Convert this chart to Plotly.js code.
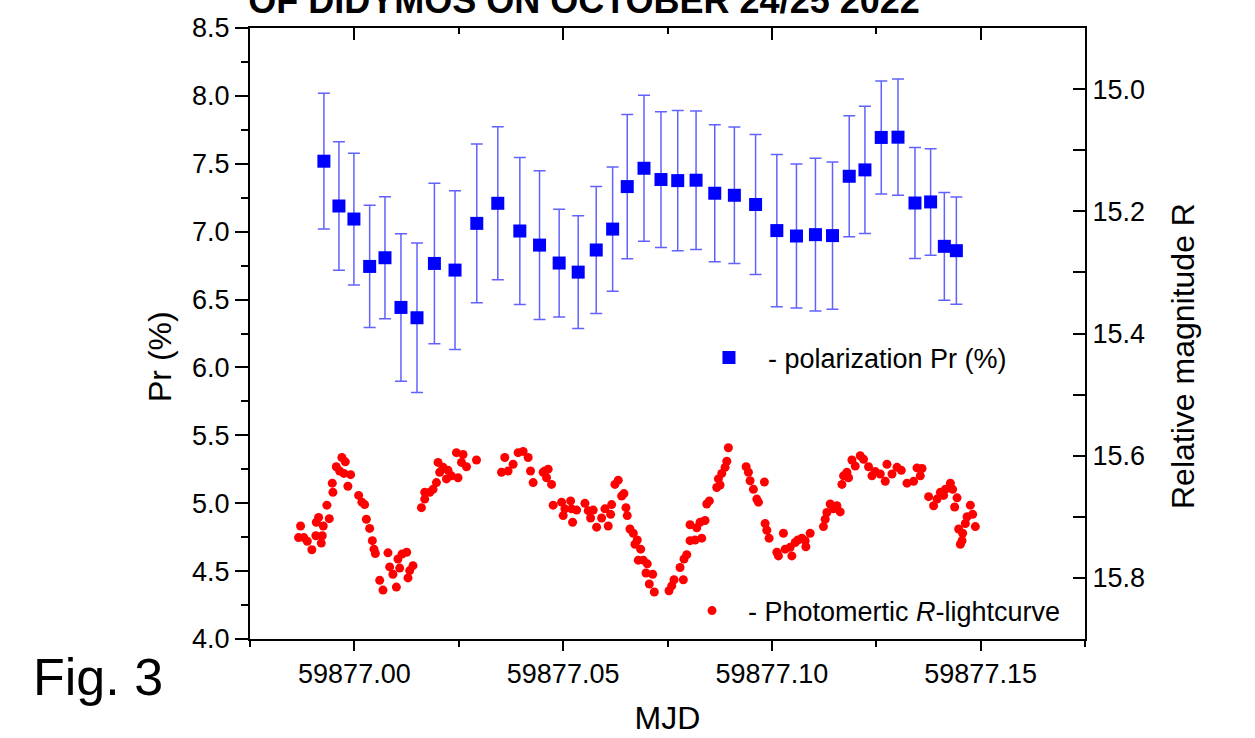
<!DOCTYPE html>
<html>
<head>
<meta charset="utf-8">
<script src="https://cdn.plot.ly/plotly-3.0.1.min.js"></script>
<style>html,body{margin:0;padding:0;background:#fff;}#chart{width:1255px;height:738px;}</style>
</head>
<body>
<div id="chart"></div>
<script>
// Polarization (left axis, Pr %)
const polMJD = [59876.99270, 59876.99630, 59876.99989, 59877.00366, 59877.00733, 59877.01116, 59877.01500, 59877.01917, 59877.02411, 59877.02932, 59877.03435, 59877.03963, 59877.04435, 59877.04905, 59877.05361, 59877.05793, 59877.06186, 59877.06536, 59877.06937, 59877.07344, 59877.07745, 59877.08184, 59877.08632, 59877.09102, 59877.09610, 59877.10119, 59877.10589, 59877.11044, 59877.11452, 59877.11853, 59877.12229, 59877.12620, 59877.13021, 59877.13428, 59877.13802, 59877.14131, 59877.14419];
const polPr = [7.519, 7.189, 7.093, 6.744, 6.808, 6.442, 6.366, 6.766, 6.717, 7.061, 7.209, 7.005, 6.901, 6.769, 6.702, 6.865, 7.019, 7.332, 7.467, 7.384, 7.376, 7.379, 7.283, 7.268, 7.200, 7.008, 6.968, 6.978, 6.971, 7.408, 7.455, 7.694, 7.696, 7.211, 7.219, 6.892, 6.860];
const polErr = [0.500, 0.474, 0.485, 0.450, 0.450, 0.543, 0.551, 0.591, 0.584, 0.584, 0.563, 0.542, 0.547, 0.397, 0.415, 0.467, 0.457, 0.531, 0.537, 0.500, 0.516, 0.510, 0.505, 0.503, 0.516, 0.561, 0.531, 0.563, 0.542, 0.446, 0.468, 0.416, 0.428, 0.409, 0.392, 0.397, 0.395];

// Photometric R lightcurve (right axis, relative magnitude)
const lcMJD = [59876.98663, 59876.98711, 59876.98790, 59876.98872, 59876.98982, 59876.99078, 59876.99088, 59876.99143, 59876.99207, 59876.99255, 59876.99231, 59876.99342, 59876.99399, 59876.99471, 59876.99486, 59876.99567, 59876.99646, 59876.99701, 59876.99749, 59876.99783, 59876.99845, 59876.99910, 59877.00102, 59877.00181, 59877.00246, 59877.00287, 59877.00366, 59877.00430, 59877.00469, 59877.00502, 59877.00606, 59877.00685, 59877.00805, 59877.00845, 59877.00924, 59877.01006, 59877.01044, 59877.01085, 59877.01140, 59877.01253, 59877.01284, 59877.01325, 59877.01404, 59877.01606, 59877.01685, 59877.01685, 59877.01805, 59877.01884, 59877.01965, 59877.02004, 59877.02044, 59877.02124, 59877.02205, 59877.02243, 59877.02325, 59877.02445, 59877.02483, 59877.02565, 59877.02603, 59877.02685, 59877.02925, 59877.03524, 59877.03603, 59877.03682, 59877.03802, 59877.03922, 59877.04042, 59877.04162, 59877.04219, 59877.04282, 59877.04522, 59877.04562, 59877.04642, 59877.04603, 59877.04723, 59877.04761, 59877.04963, 59877.05042, 59877.05001, 59877.05179, 59877.05203, 59877.05323, 59877.05227, 59877.05522, 59877.05601, 59877.05658, 59877.05721, 59877.05802, 59877.05922, 59877.06001, 59877.06080, 59877.06138, 59877.06162, 59877.06241, 59877.06320, 59877.06402, 59877.06457, 59877.06505, 59877.06536, 59877.06601, 59877.06680, 59877.06721, 59877.06776, 59877.06857, 59877.06800, 59877.06920, 59877.07016, 59877.06985, 59877.07145, 59877.07064, 59877.07184, 59877.07536, 59877.07601, 59877.07656, 59877.07879, 59877.07800, 59877.07896, 59877.07961, 59877.08040, 59877.08160, 59877.08320, 59877.08040, 59877.08200, 59877.08280, 59877.08399, 59877.08440, 59877.08502, 59877.08680, 59877.08759, 59877.08718, 59877.08800, 59877.08879, 59877.08920, 59877.08958, 59877.09383, 59877.09438, 59877.09478, 59877.09558, 59877.09639, 59877.09678, 59877.09821, 59877.09838, 59877.09879, 59877.09934, 59877.10119, 59877.10157, 59877.10277, 59877.10318, 59877.10438, 59877.10479, 59877.10558, 59877.10622, 59877.10718, 59877.10797, 59877.10814, 59877.10917, 59877.11236, 59877.11277, 59877.11318, 59877.11397, 59877.11476, 59877.11558, 59877.11637, 59877.11678, 59877.11716, 59877.11797, 59877.11836, 59877.11917, 59877.11997, 59877.12116, 59877.12196, 59877.12315, 59877.12397, 59877.12476, 59877.12596, 59877.12716, 59877.12757, 59877.12877, 59877.12997, 59877.13100, 59877.13236, 59877.13395, 59877.13476, 59877.13555, 59877.13596, 59877.13754, 59877.13874, 59877.13956, 59877.14035, 59877.14114, 59877.14155, 59877.14275, 59877.14330, 59877.14378, 59877.14435, 59877.14474, 59877.14515, 59877.14555, 59877.14570, 59877.14634, 59877.14675, 59877.14754, 59877.14810, 59877.14874];
const lcMag = [15.734, 15.715, 15.734, 15.740, 15.754, 15.731, 15.709, 15.701, 15.743, 15.715, 15.731, 15.681, 15.703, 15.645, 15.660, 15.618, 15.625, 15.603, 15.629, 15.610, 15.650, 15.631, 15.665, 15.676, 15.680, 15.704, 15.719, 15.739, 15.753, 15.760, 15.804, 15.820, 15.759, 15.782, 15.794, 15.815, 15.769, 15.784, 15.761, 15.758, 15.800, 15.788, 15.780, 15.685, 15.671, 15.660, 15.660, 15.655, 15.644, 15.611, 15.627, 15.619, 15.638, 15.624, 15.633, 15.595, 15.636, 15.611, 15.598, 15.618, 15.607, 15.627, 15.603, 15.625, 15.614, 15.595, 15.593, 15.603, 15.625, 15.644, 15.627, 15.625, 15.622, 15.636, 15.647, 15.681, 15.676, 15.687, 15.698, 15.674, 15.687, 15.689, 15.709, 15.678, 15.690, 15.702, 15.689, 15.717, 15.702, 15.687, 15.715, 15.696, 15.680, 15.647, 15.640, 15.666, 15.662, 15.685, 15.698, 15.720, 15.727, 15.745, 15.738, 15.753, 15.771, 15.771, 15.777, 15.792, 15.794, 15.810, 15.823, 15.821, 15.813, 15.803, 15.803, 15.783, 15.769, 15.762, 15.739, 15.738, 15.735, 15.713, 15.718, 15.709, 15.706, 15.679, 15.674, 15.652, 15.648, 15.638, 15.629, 15.619, 15.609, 15.587, 15.618, 15.627, 15.641, 15.655, 15.671, 15.676, 15.643, 15.711, 15.722, 15.735, 15.758, 15.764, 15.727, 15.753, 15.750, 15.764, 15.742, 15.738, 15.735, 15.739, 15.749, 15.727, 15.716, 15.704, 15.693, 15.679, 15.687, 15.682, 15.692, 15.647, 15.633, 15.627, 15.636, 15.607, 15.617, 15.600, 15.606, 15.618, 15.633, 15.626, 15.630, 15.642, 15.614, 15.630, 15.619, 15.624, 15.645, 15.642, 15.620, 15.633, 15.621, 15.667, 15.682, 15.671, 15.660, 15.665, 15.655, 15.645, 15.655, 15.684, 15.669, 15.720, 15.745, 15.739, 15.727, 15.711, 15.700, 15.681, 15.696, 15.716];

const FONT = 'Liberation Sans, Arial, sans-serif';
const xRange = [59876.975, 59877.175];

const traces = [
  {
    x: polMJD, y: polPr, type: 'scatter', mode: 'markers',
    name: '- polarization Pr (%)', xaxis: 'x', yaxis: 'y', legend: 'legend',
    marker: {symbol: 'square', size: 13, color: '#0000ff'},
    error_y: {type: 'data', array: polErr, visible: true, color: 'rgba(30,30,255,0.7)', thickness: 1.5, width: 6},
    cliponaxis: false
  },
  {
    x: lcMJD, y: lcMag, type: 'scatter', mode: 'markers',
    name: '- Photomertic <i>R</i>-lightcurve', xaxis: 'x2', yaxis: 'y2', legend: 'legend2',
    marker: {symbol: 'circle', size: 9, color: '#ff0000'}
  }
];

const axCommon = {
  showgrid: false, zeroline: false, showline: true, linecolor: '#000', linewidth: 2,
  tickcolor: '#000', tickwidth: 2, tickfont: {family: FONT, size: 27, color: '#000'}
};

const layout = {
  width: 1255, height: 738,
  margin: {l: 250, r: 170, t: 28, b: 99},
  paper_bgcolor: '#fff', plot_bgcolor: '#fff',
  font: {family: FONT, color: '#000'},
  title: {
    text: '<b>OF DIDYMOS ON OCTOBER 24/25 2022</b>',
    font: {family: FONT, size: 36, color: '#000'},
    xref: 'paper', x: 0.40, xanchor: 'center',
    yref: 'container', y: 1.0, yanchor: 'middle'
  },
  xaxis: Object.assign({}, axCommon, {
    range: xRange, tick0: 59877, dtick: 0.05, tickformat: '.2f',
    ticks: 'outside', ticklen: 10, anchor: 'y',
    minor: {tick0: 59877, dtick: 0.025, ticks: 'outside', ticklen: 6, tickwidth: 2, tickcolor: '#000'},
    title: {text: 'MJD', font: {family: FONT, size: 32, color: '#000'}, standoff: 18}
  }),
  xaxis2: Object.assign({}, axCommon, {
    range: xRange, tick0: 59877, dtick: 0.05, overlaying: 'x', side: 'top', anchor: 'y2',
    ticks: 'inside', ticklen: 12, showticklabels: false,
    minor: {tick0: 59877, dtick: 0.025, ticks: 'inside', ticklen: 6, tickwidth: 2, tickcolor: '#000'}
  }),
  yaxis: Object.assign({}, axCommon, {
    range: [4.0, 8.5], tick0: 4.0, dtick: 0.5, tickformat: '.1f',
    ticks: 'outside', ticklen: 13, anchor: 'x',
    minor: {tick0: 4.0, dtick: 0.25, ticks: 'outside', ticklen: 7, tickwidth: 2, tickcolor: '#000'}
  }),
  yaxis2: Object.assign({}, axCommon, {
    range: [15.9, 14.9], tick0: 15.0, dtick: 0.2, tickformat: '.1f',
    overlaying: 'y', side: 'right', anchor: 'x2',
    ticks: 'inside', ticklen: 12,
    minor: {tick0: 15.0, dtick: 0.1, ticks: 'inside', ticklen: 12, tickwidth: 2, tickcolor: '#000'}
  }),
  showlegend: true,
  legend: {
    x: 0.5269, xanchor: 'left', y: 0.4599, yanchor: 'middle', itemwidth: 68,
    bgcolor: 'rgba(0,0,0,0)', borderwidth: 0,
    font: {family: FONT, size: 27, color: '#000'}
  },
  legend2: {
    x: 0.5102, xanchor: 'left', y: 0.0458, yanchor: 'middle', itemwidth: 62,
    bgcolor: 'rgba(0,0,0,0)', borderwidth: 0,
    font: {family: FONT, size: 27, color: '#000'}
  },
  annotations: [
    {text: 'Pr (%)', xref: 'paper', yref: 'paper', x: -0.1078, y: 0.4632,
     xanchor: 'center', yanchor: 'middle', textangle: -90, showarrow: false,
     font: {family: FONT, size: 32, color: '#000'}},
    {text: 'Relative magnitude R', xref: 'paper', yref: 'paper', x: 1.1174, y: 0.4632,
     xanchor: 'center', yanchor: 'middle', textangle: -90, showarrow: false,
     font: {family: FONT, size: 32, color: '#000'}},
    {text: 'Fig. 3', xref: 'paper', yref: 'paper', x: -0.262, y: -0.062,
     xanchor: 'left', yanchor: 'middle', showarrow: false,
     font: {family: FONT, size: 52, color: '#000'}}
  ]
};

Plotly.newPlot('chart', traces, layout, {displayModeBar: false, staticPlot: true});
</script>
</body>
</html>
